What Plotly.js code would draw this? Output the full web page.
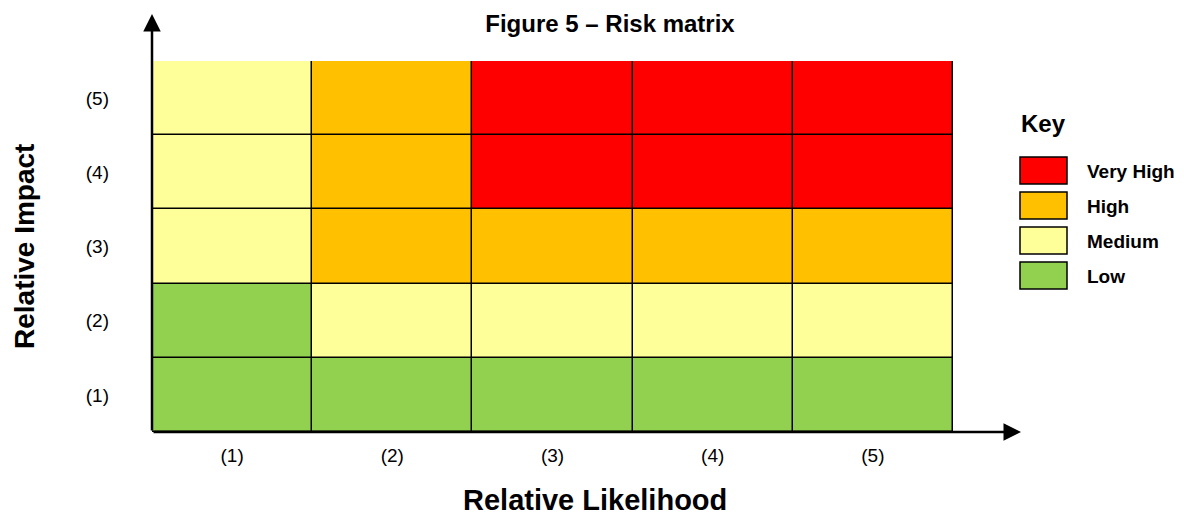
<!DOCTYPE html>
<html>
<head>
<meta charset="utf-8">
<script src="https://cdn.plot.ly/plotly-3.0.1.min.js"></script>
<style>html,body{margin:0;padding:0;background:#fff;}#chart{width:1184px;height:518px;}</style>
</head>
<body>
<div id="chart"></div>
<script>
// Data
const likelihood = [1, 2, 3, 4, 5];
const impact = [1, 2, 3, 4, 5];
const likelihoodLabels = ['(1)', '(2)', '(3)', '(4)', '(5)'];
const impactLabels = ['(1)', '(2)', '(3)', '(4)', '(5)'];
// risk level per cell: 0 Low, 1 Medium, 2 High, 3 Very High (rows = impact 1..5)
const impact1 = [0, 0, 0, 0, 0];
const impact2 = [0, 1, 1, 1, 1];
const impact3 = [1, 2, 2, 2, 2];
const impact4 = [1, 2, 3, 3, 3];
const impact5 = [1, 2, 3, 3, 3];
const levelNames = ['Low', 'Medium', 'High', 'Very High'];
const levelColors = ['#92D050', '#FFFF99', '#FFC000', '#FF0000'];
const keyOrder = [3, 2, 1, 0];

const FONT = 'Arial, "Liberation Sans", sans-serif';
const W = 1184, H = 518;
const L = 152, R = 953, T = 61, B = 432;
const px2x = p => (p - L) / (R - L);
const px2y = p => (B - p) / (B - T);

const z = [impact1, impact2, impact3, impact4, impact5];
const n = levelColors.length - 1;
const colorscale = levelColors.map((c, i) => [i / n, c]);

const trace = {
  type: 'heatmap',
  x: likelihood,
  y: impact,
  z: z,
  zmin: 0, zmax: n,
  colorscale: colorscale,
  showscale: false,
  xgap: 1.5, ygap: 1.5,
  hoverinfo: 'skip'
};

const shapes = [];
const annotations = [];

// axis arrows
annotations.push({xref: 'paper', yref: 'paper', x: px2x(1021), y: 0, ax: -(1021 - L), ay: 0, axref: 'pixel', ayref: 'pixel',
  text: '', showarrow: true, arrowhead: 2, arrowsize: 1.4, arrowwidth: 2.5, arrowcolor: '#000'});
annotations.push({xref: 'paper', yref: 'paper', x: 0, y: px2y(14), ax: 0, ay: (B - 14), axref: 'pixel', ayref: 'pixel',
  text: '', showarrow: true, arrowhead: 2, arrowsize: 1.4, arrowwidth: 2.5, arrowcolor: '#000'});

// axis titles
annotations.push({xref: 'paper', yref: 'paper', x: px2x(595), y: px2y(500), text: 'Relative Likelihood', showarrow: false,
  font: {family: FONT, size: 29, color: '#000', weight: 'bold'}, xanchor: 'center', yanchor: 'middle'});
annotations.push({xref: 'paper', yref: 'paper', x: px2x(24), y: px2y(247), text: 'Relative Impact', showarrow: false, textangle: -90,
  font: {family: FONT, size: 28, color: '#000', weight: 'bold'}, xanchor: 'center', yanchor: 'middle'});

// key
annotations.push({xref: 'paper', yref: 'paper', x: px2x(1019), y: px2y(124), text: 'Key', showarrow: false,
  font: {family: FONT, size: 24, color: '#000', weight: 'bold'}, xanchor: 'left', yanchor: 'middle'});
keyOrder.forEach((lvl, i) => {
  const top = 157 + i * 35;
  shapes.push({type: 'rect', xref: 'paper', yref: 'paper', x0: px2x(1020), x1: px2x(1067), y0: px2y(top + 27), y1: px2y(top),
    fillcolor: levelColors[lvl], line: {color: '#000', width: 1.5}});
  annotations.push({xref: 'paper', yref: 'paper', x: px2x(1085), y: px2y(top + 14), text: levelNames[lvl], showarrow: false,
    font: {family: FONT, size: 19, color: '#000', weight: 'bold'}, xanchor: 'left', yanchor: 'middle'});
});

const layout = {
  width: W, height: H,
  margin: {l: L, r: W - R, t: T, b: H - B, pad: 0},
  paper_bgcolor: '#fff',
  plot_bgcolor: '#000',
  title: {text: 'Figure 5 – Risk matrix', x: 610 / W, xref: 'container', xanchor: 'center', y: 1 - 24 / H, yref: 'container', yanchor: 'middle',
    font: {family: FONT, size: 24, color: '#000', weight: 'bold'}},
  xaxis: {range: [0.5, 5.5], tickvals: likelihood, ticktext: likelihoodLabels, showgrid: false, zeroline: false, ticks: '',
    ticklabelstandoff: 10, tickfont: {family: FONT, size: 19, color: '#000'}, fixedrange: true},
  yaxis: {range: [0.5, 5.5], tickvals: impact, ticktext: impactLabels, showgrid: false, zeroline: false, ticks: '',
    ticklabelstandoff: 42, tickfont: {family: FONT, size: 19, color: '#000'}, fixedrange: true},
  shapes: shapes,
  annotations: annotations,
  showlegend: false
};

Plotly.newPlot('chart', [trace], layout, {displayModeBar: false, staticPlot: true});
</script>
</body>
</html>
